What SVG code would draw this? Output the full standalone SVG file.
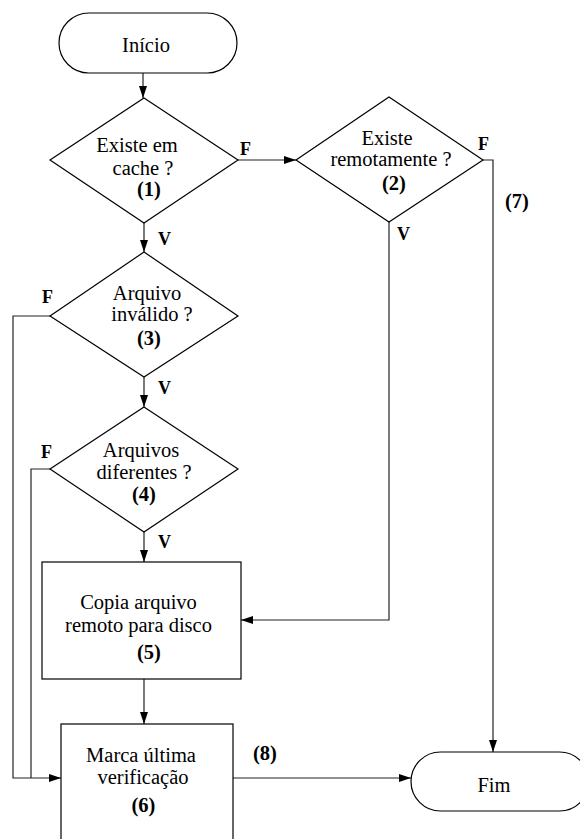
<svg xmlns="http://www.w3.org/2000/svg" width="580" height="839" viewBox="0 0 580 839" font-family="'Liberation Serif', 'DejaVu Serif', serif">
  <style>
    .shape { fill: #fff; stroke: #000; stroke-width: 1.2; }
    .wire { fill: none; stroke: #222; stroke-width: 1.2; }
    text { font-family: 'Liberation Serif', 'DejaVu Serif', serif; fill: #000; }
    .txt { font-size: 20.5px; text-anchor: middle; }
    .num { font-size: 20.5px; font-weight: bold; text-anchor: middle; }
    .lbl { font-size: 18px; font-weight: bold; }
  </style>
  <defs>
    <marker id="arrow" markerUnits="userSpaceOnUse" markerWidth="12" markerHeight="8" refX="12" refY="4" orient="auto">
      <path d="M0,0 L12,4 L0,8 z" fill="#000"/>
    </marker>
  </defs>
  <rect width="580" height="839" fill="#fff"/>

  <!-- connectors -->
  <g id="connectors" class="wire">
    <path d="M143,73 L143,98" marker-end="url(#arrow)"/>
    <path d="M238,160 L296,160" marker-end="url(#arrow)"/>
    <path d="M144,223 L144,252" marker-end="url(#arrow)"/>
    <path d="M483,160 L493,160 L493,752" marker-end="url(#arrow)"/>
    <path d="M389,222 L389,620 L241,620" marker-end="url(#arrow)"/>
    <path d="M50,316 L13,316 L13,778 L61,778" marker-end="url(#arrow)"/>
    <path d="M144,377 L144,407" marker-end="url(#arrow)"/>
    <path d="M50,469 L31,469 L31,778"/>
    <path d="M144,532 L144,562" marker-end="url(#arrow)"/>
    <path d="M144,679 L144,724" marker-end="url(#arrow)"/>
    <path d="M233,778 L411,778" marker-end="url(#arrow)"/>
  </g>

  <!-- branch labels -->
  <g id="labels">
    <text class="lbl" x="240" y="155">F</text>
    <text class="lbl" x="478" y="150">F</text>
    <text class="lbl" x="158" y="245">V</text>
    <text class="lbl" x="397" y="240">V</text>
    <text class="lbl" x="42" y="303">F</text>
    <text class="lbl" x="158" y="394">V</text>
    <text class="lbl" x="41" y="458">F</text>
    <text class="lbl" x="158" y="548">V</text>
    <text class="num" x="517" y="208">(7)</text>
    <text class="num" x="265" y="760">(8)</text>
  </g>

  <g id="inicio">
    <rect class="shape" x="59" y="13" width="178" height="60" rx="30" ry="30"/>
    <text class="txt" x="146" y="52">Início</text>
  </g>

  <g id="decisao1">
    <polygon class="shape" points="144,98 238,160 144,223 50,160"/>
    <text class="txt" x="137" y="152">Existe em</text>
    <text class="txt" x="143" y="175">cache ?</text>
    <text class="num" x="149" y="196">(1)</text>
  </g>

  <g id="decisao2">
    <polygon class="shape" points="389,97 483,160 389,222 296,160"/>
    <text class="txt" x="387" y="145">Existe</text>
    <text class="txt" x="391" y="166">remotamente ?</text>
    <text class="num" x="394" y="190">(2)</text>
  </g>

  <g id="decisao3">
    <polygon class="shape" points="144,252 238,316 144,377 50,316"/>
    <text class="txt" x="147" y="300">Arquivo</text>
    <text class="txt" x="152" y="321">inválido ?</text>
    <text class="num" x="149" y="345">(3)</text>
  </g>

  <g id="decisao4">
    <polygon class="shape" points="144,407 238,469 144,532 50,469"/>
    <text class="txt" x="141" y="457">Arquivos</text>
    <text class="txt" x="144" y="479">diferentes ?</text>
    <text class="num" x="144" y="501">(4)</text>
  </g>

  <g id="copia">
    <rect class="shape" x="42" y="562" width="199" height="117"/>
    <text class="txt" x="138.5" y="609">Copia arquivo</text>
    <text class="txt" x="138.5" y="632">remoto para disco</text>
    <text class="num" x="149" y="659">(5)</text>
  </g>

  <g id="marca">
    <rect class="shape" x="61" y="724" width="172" height="130"/>
    <text class="txt" x="141" y="762">Marca última</text>
    <text class="txt" x="143" y="784">verificação</text>
    <text class="num" x="143.5" y="812">(6)</text>
  </g>

  <g id="fim">
    <rect class="shape" x="411" y="752" width="178" height="59" rx="29.5" ry="29.5"/>
    <text class="txt" x="494" y="792">Fim</text>
  </g>
</svg>
